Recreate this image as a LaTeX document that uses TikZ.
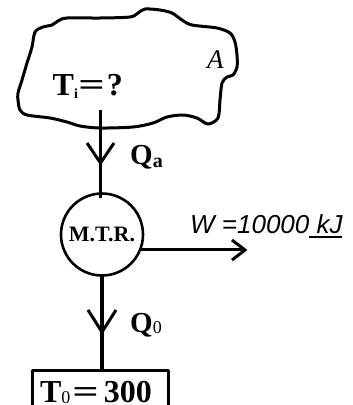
\documentclass[tikz,border=0pt]{standalone}
\usepackage{fontspec}
\usepackage{graphicx}
\setmainfont{Liberation Serif}
\newfontfamily\wfont{Liberation Sans}
\usetikzlibrary{calc}
\newcommand{\wideeq}{\scalebox{1.45}[1]{=}}
\begin{document}
\begin{tikzpicture}[x=1pt,y=-1pt,line join=round,
  cloudline/.style={line width=3pt},
  flow/.style={line width=3.2pt},
  barb/.style={line width=3pt,line join=miter},
  mtrbox/.style={circle,draw,line width=2.6pt,minimum size=82pt,inner sep=0pt,outer sep=0pt,
    font=\fontsize{22}{22}\bfseries\selectfont},
  resbox/.style={draw,line width=3pt,anchor=north,text width=120pt,align=left,
    inner xsep=8pt,inner ysep=11pt,text height=21pt,text depth=8pt,outer sep=0pt,
    font=\fontsize{32}{32}\bfseries\selectfont},
  bigbold/.style={anchor=base west,inner sep=0pt,font=\fontsize{32}{32}\bfseries\selectfont},
  qlabel/.style={anchor=base west,inner sep=0pt,font=\fontsize{29}{29}\bfseries\selectfont}]
\clip (0,0) rectangle (353,405);
% system A
\draw[cloudline] plot[smooth cycle,tension=0.5] coordinates {
 (35,32) (43,27) (52,25) (58,21) (67,18) (100,18) (130,17) (138,13) (145,9) (160,10)
 (172,13) (182,20) (192,25) (217,28) (230,33) (235,42) (237,55) (237,67) (233,75)
 (227,77) (222,83) (220,100) (218,118) (208,124) (197,118) (183,115) (167,117)
 (153,123) (133,127) (100,128) (80,126) (67,122) (50,118) (27,115) (20,110)
 (18,100) (18,93) (22,80) (27,63) (32,47)};
\node[bigbold] (ti) at (52.5,95) {T\raisebox{-3pt}{\fontsize{14}{14}\selectfont i}\hspace{0.5pt}\wideeq\hspace{2pt}?};
\node[anchor=base west,inner sep=0pt,font=\fontsize{27}{27}\itshape\selectfont] (A) at (207,68) {A};
% engine
\coordinate (qstart) at (100.5,110);
\node[mtrbox] (mtr) at (102,234.5) {M.T.R.};
\draw[flow] (qstart) -- ($(qstart |- mtr.north)+(0,4)$);
\draw[barb] (87,143) -- (100.5,163) -- (114,143);
\node[qlabel] (qa) at (130,164) {Q\raisebox{-3pt}{\fontsize{20}{20}\selectfont a}};
% work
\coordinate (wend) at (245,250);
\draw[flow] (mtr.-22) -- (mtr.-22 -| wend);
\draw[barb] (232,240) -- (wend) -- (232,260);
\node[anchor=base west,inner sep=0pt,font=\wfont\itshape\fontsize{26}{26}\selectfont] (w) at (190,233) {W =10000\rlap{\rule[-4.5pt]{33pt}{1.4pt}} kJ};
% reservoir
\node[resbox] (box) at (100,370) {T\raisebox{-1pt}{\fontsize{18}{18}\mdseries\selectfont 0}\hspace{2pt}\wideeq\hspace{5pt}300};
\draw[flow] (mtr.south) -- (mtr.south |- box.north);
\draw[barb] (88,310) -- (102,332) -- (116,310);
\node[qlabel] (q0) at (130,332) {Q\raisebox{-1pt}{\fontsize{18}{18}\mdseries\selectfont 0}};
\end{tikzpicture}
\end{document}
